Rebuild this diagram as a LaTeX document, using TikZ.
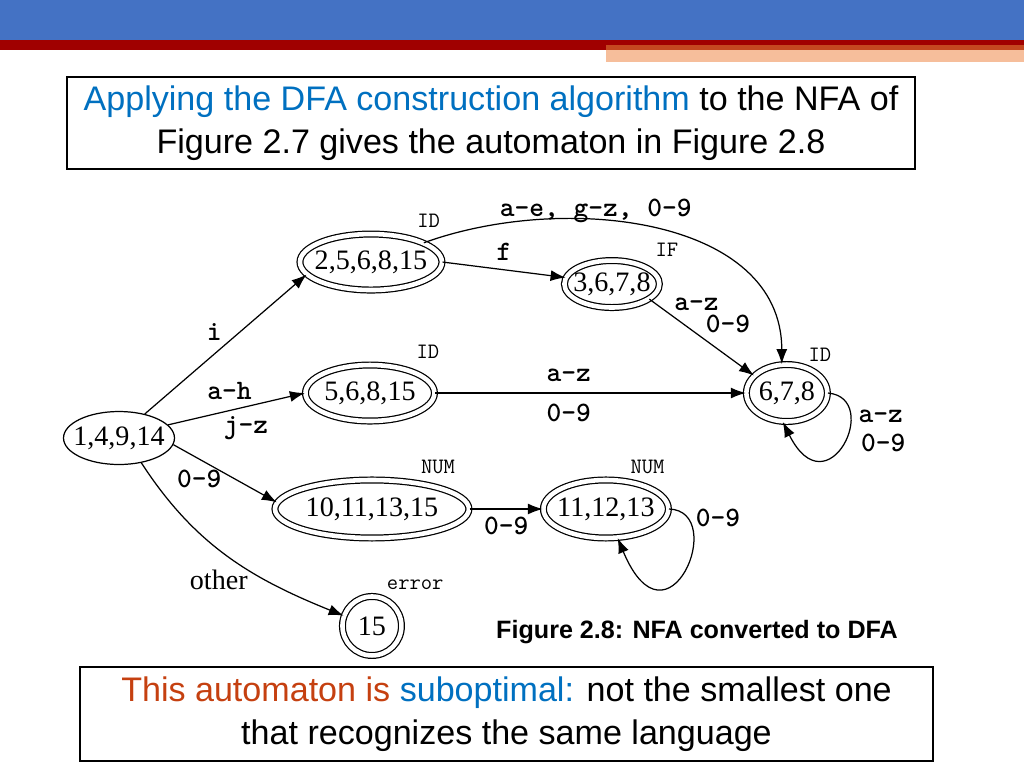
\documentclass[tikz,border=0pt]{standalone}
\usepackage{fontspec}
\setmainfont{Liberation Sans}
\newfontfamily\serifstate{Liberation Serif}
\usetikzlibrary{arrows,arrows.meta,shapes,positioning}

\definecolor{hdrblue}{RGB}{68,114,196}
\definecolor{hdrred}{RGB}{160,0,0}
\definecolor{hdrrust}{RGB}{196,72,32}
\definecolor{hdrpeach}{RGB}{246,190,155}
\definecolor{txtblue}{RGB}{0,112,192}
\definecolor{txtrust}{RGB}{197,64,16}

\newcommand{\statefont}{\serifstate\fontsize{16}{18}\selectfont}
\newcommand{\symfont}{\ttfamily\bfseries\fontsize{16}{18}\selectfont}
\newcommand{\tagfont}{\ttfamily\fontsize{12.5}{14}\selectfont}
\newcommand{\boxfont}{\fontsize{19.4}{24.4}\selectfont}

\begin{document}
\begin{tikzpicture}
    [x=0.02cm,y=-0.02cm,line width=0.7pt,
    state/.style={ellipse,draw,inner sep=0pt,font=\statefont},
    accept/.style={state,double,double distance=2.6pt},
    sym/.style={font=\symfont,inner sep=2pt},
    tag/.style={font=\tagfont,inner sep=0pt,above=2.8mm},
    frame/.style={draw,align=center,font=\boxfont},
    move/.style={->,>={Latex[length=3mm,width=2.2mm]}}]

    \useasboundingbox (0,0) rectangle (1024,768);

    % slide header
    \fill[hdrblue] (0,0) rectangle (1024,40);
    \fill[hdrred] (0,40) rectangle (1024,50);
    \fill[hdrrust] (606,45) rectangle (1024,50);
    \fill[hdrpeach] (606,50) rectangle (1024,62);

    \node[frame,minimum width=16.96cm,minimum height=1.84cm] (intro) at (491,123)
    {\textcolor{txtblue}{Applying the DFA construction algorithm} to the NFA of\\
      Figure 2.7 gives the automaton in Figure 2.8};

    % states
    \node[state,minimum width=2.22cm,minimum height=1.06cm] (s0) at (119,438) {\makebox[0pt]{1,4,9,14}};
    \node[accept,minimum width=2.84cm,minimum height=1.12cm] (s1) [right of=s0,xshift=4.04cm,yshift=3.52cm] {\makebox[0pt]{2,5,6,8,15}};
    \node[accept,minimum width=2.58cm,minimum height=1.12cm] (s3) [right of=s0,xshift=4.02cm,yshift=0.9cm] {\makebox[0pt]{5,6,8,15}};
    \node[accept,minimum width=3.88cm,minimum height=1.16cm] (s5) [right of=s0,xshift=4.06cm,yshift=-1.42cm] {\makebox[0pt]{10,11,13,15}};
    \node[accept,minimum width=1.18cm,minimum height=1.18cm] (s7) [right of=s0,xshift=4.06cm,yshift=-3.76cm] {\makebox[0pt]{15}};
    \node[accept,minimum width=1.9cm,minimum height=0.94cm] (s2) [right of=s1,xshift=3.82cm,yshift=-0.44cm] {\makebox[0pt]{3,6,7,8}};
    \node[accept,minimum width=1.62cm,minimum height=1.14cm] (s4) [right of=s3,xshift=7.34cm] {\makebox[0pt]{6,7,8}};
    \node[accept,minimum width=2.5cm,minimum height=1.16cm] (s6) [right of=s5,xshift=3.68cm] {\makebox[0pt]{11,12,13}};

    % token names
    \node[tag,xshift=1.4mm] (t1) at (s1.north east) {ID};
    \node[tag,xshift=4.2mm,yshift=-0.9mm] (t2) at (s2.north east) {IF};
    \node[tag,xshift=2.4mm] (t3) at (s3.north east) {ID};
    \node[tag,xshift=0.8mm,yshift=-0.7mm] (t4) at (s4.north east) {ID};
    \node[tag,xshift=-0.6mm] (t5) at (s5.north east) {NUM};
    \node[tag,xshift=-0.6mm] (t6) at (s6.north east) {NUM};
    \node[tag,xshift=4.4mm] (t7) at (s7.north east) {error};

    % transitions
    \draw[move] (s0.43) -- node[sym,pos=.5,above left] (e1) {i} (s1.191);
    \draw[move] (s0.15) -- node[sym,pos=.45,above=4pt] (e2) {a-h}
      node[sym,pos=.57,below=3pt] (e3) {j-z} (s3.west);
    \draw[move] (s0.353) -- node[sym,pos=.25,below=4pt] (e4) {0-9} (s5.176);
    \draw[move] (s0.-48) to[out=-57,in=158]
      node[pos=.45,below=8pt,font=\statefont] (e5) {other} (s7.160);
    \draw[move] (s1.0) -- node[sym,above=3pt] (e6) {f} (s2.172);
    \draw[move] (s1.20) to[out=20,in=90]
      node[sym,pos=.37,above,yshift=-1.4mm] (e7) {a-e, g-z, 0-9} (s4.100);
    \draw[move] (s2.-22) -- node[sym,pos=.2,above right] (e8) {a-z}
      node[sym,pos=.5,above right] (e9) {0-9} (s4.152);
    \draw[move] (s3.east) -- node[sym,pos=.43,above=4pt] (e10) {a-z}
      node[sym,pos=.43,below=4pt] (e11) {0-9} (s4.west);
    \draw[move] (s4.east) .. controls +(55,5) and +(45,90) ..
      node[sym,pos=.28,right=2pt] (e12) {a-z}
      node[sym,pos=.5,right=8pt] (e13) {0-9} (s4.-98);
    \draw[move] (s5.east) -- node[sym,below=2pt] (e14) {0-9} (s6.west);
    \draw[move] (s6.east) .. controls +(60,2) and +(50,120) ..
      node[sym,pos=.15,right=2pt] (e15) {0-9} (s6.-68);

    \node[font=\bfseries\fontsize{14.3}{16}\selectfont] (caption) at (697,632) {Figure 2.8: NFA converted to DFA};

    \node[frame,minimum width=17.06cm,minimum height=1.88cm] (remark) at (506.5,714)
    {\textcolor{txtrust}{This automaton is} \textcolor{txtblue}{suboptimal:} not the smallest one\\
      that recognizes the same language};
\end{tikzpicture}
\end{document}
